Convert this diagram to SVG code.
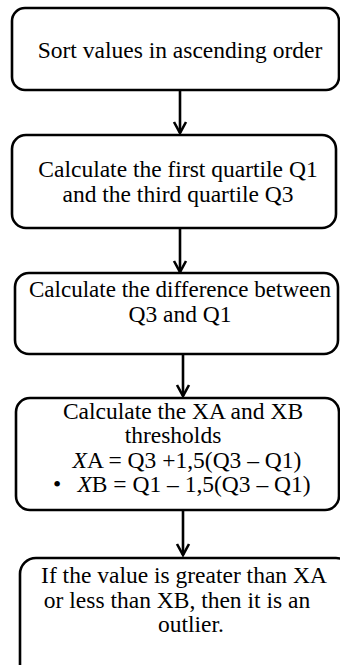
<svg xmlns="http://www.w3.org/2000/svg" width="340" height="665" viewBox="0 0 340 665">
<style>
.box{fill:#fff;stroke:#000;stroke-width:2.6}
.t{font-family:"Liberation Serif","Times New Roman",serif;font-size:23.5px;fill:#000;text-anchor:middle}
.c{stroke:#000;stroke-width:2.6;fill:none}
.h{stroke:#000;stroke-width:2.6;fill:none;stroke-linejoin:miter}
</style>
<rect width="340" height="665" fill="#fff"/>
<g id="connectors">
<line class="c" x1="180" y1="90" x2="180" y2="133"/>
<path class="h" d="M174,122 L180,133 L186,122"/>
<line class="c" x1="180" y1="228" x2="180" y2="272"/>
<path class="h" d="M174,261 L180,272 L186,261"/>
<line class="c" x1="183" y1="354" x2="183" y2="396"/>
<path class="h" d="M177,385 L183,396 L189,385"/>
<line class="c" x1="183" y1="510" x2="183" y2="555"/>
<path class="h" d="M177,544 L183,555 L189,544"/>
</g>
<g id="n1">
<rect class="box" x="12" y="8" width="327" height="82" rx="13"/>
<text class="t" x="180" y="58">Sort values in ascending order</text>
</g>
<g id="n2">
<rect class="box" x="12" y="135" width="324" height="93" rx="14"/>
<text class="t" x="178" y="177">Calculate the first quartile Q1</text>
<text class="t" x="178" y="202">and the third quartile Q3</text>
</g>
<g id="n3">
<rect class="box" x="15" y="273" width="323" height="81" rx="14"/>
<text class="t" x="180" y="297" textLength="302" lengthAdjust="spacingAndGlyphs">Calculate the difference between</text>
<text class="t" x="180" y="322">Q3 and Q1</text>
</g>
<g id="n4">
<rect class="box" x="16" y="398" width="323" height="112" rx="14"/>
<text class="t" x="183" y="419">Calculate the XA and XB</text>
<text class="t" x="173" y="443">thresholds</text>
<text class="t" x="187" y="468"><tspan font-style="italic">X</tspan>A = Q3 +1,5(Q3 – Q1)</text>
<text class="t" x="57" y="492">•</text>
<text class="t" x="194" y="492"><tspan font-style="italic">X</tspan>B = Q1 – 1,5(Q3 – Q1)</text>
</g>
<g id="n5">
<rect class="box" x="20" y="558" width="332" height="125" rx="16"/>
<text class="t" x="184" y="583">If the value is greater than XA</text>
<text class="t" x="177" y="608">or less than XB, then it is an</text>
<text class="t" x="191" y="632">outlier.</text>
</g>
</svg>
